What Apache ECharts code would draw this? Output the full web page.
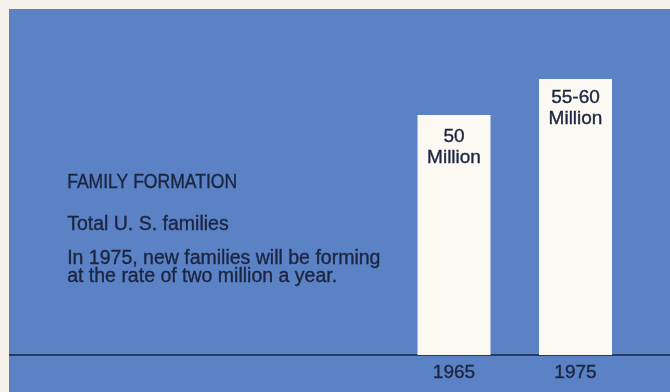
<!DOCTYPE html>
<html>
<head>
<meta charset="utf-8">
<script src="https://cdn.jsdelivr.net/npm/echarts@6/dist/echarts.min.js"></script>
<style>
html,body{margin:0;padding:0;background:#f4f2ea;width:670px;height:392px;overflow:hidden;}
#chart{position:absolute;left:9px;top:9px;width:661px;height:383px;}
</style>
</head>
<body>
<div id="chart"></div>
<script>
const categories = ['1965', '1975'];
const familiesMillions = [50, 57.5];
const barLabels = ['50\nMillion', '55-60\nMillion'];
const titleText = 'FAMILY FORMATION';
const subtitleText = 'Total U. S. families';
const noteLines = ['In 1975, new families will be forming', 'at the rate of two million a year.'];

const FONT = '"Liberation Sans", Arial, sans-serif';
const INK = '#1b2440';
const labelDistances = [11, 8.5];
const chart = echarts.init(document.getElementById('chart'));
const textStyle = (size, extra) => Object.assign({fill: INK, font: size + 'px ' + FONT, stroke: INK, lineWidth: 0.35}, extra || {});
chart.setOption({
  backgroundColor: '#5a82c5',
  animation: false,
  grid: [
    {left: 384.25, right: 33.75, top: 10, bottom: 37},
    {left: 0, right: 0, top: 10, bottom: 37}
  ],
  xAxis: [
    {type: 'category', data: categories, gridIndex: 0,
     axisLine: {show: false}, axisTick: {show: false},
     axisLabel: {color: INK, fontFamily: FONT, fontSize: 19, margin: 8, textBorderColor: INK, textBorderWidth: 0.35}},
    {type: 'value', gridIndex: 1, min: 0, max: 1,
     axisLine: {show: true, lineStyle: {color: '#1a2338', width: 1.6}},
     axisTick: {show: false}, axisLabel: {show: false}, splitLine: {show: false}}
  ],
  yAxis: [
    {type: 'value', gridIndex: 0, min: 0, max: 70, show: false, splitLine: {show: false}},
    {type: 'value', gridIndex: 1, show: false, splitLine: {show: false}}
  ],
  series: [{
    type: 'bar',
    data: familiesMillions.map((v, i) => ({value: v, label: {distance: labelDistances[i]}})),
    barWidth: 73,
    itemStyle: {color: '#fbf9f1'},
    label: {
      show: true, position: 'insideTop',
      formatter: p => barLabels[p.dataIndex],
      color: INK, fontFamily: FONT, fontSize: 19, lineHeight: 21, align: 'center',
      textBorderColor: INK, textBorderWidth: 0.35
    }
  }],
  graphic: [
    {type: 'text', left: 58, top: 172.5 - 9, scaleX: 0.9, style: textStyle(19.5, {text: titleText})},
    {type: 'text', left: 58, top: 214 - 9, style: textStyle(19.5, {text: subtitleText})},
    {type: 'text', left: 58, top: 248.5 - 9, style: textStyle(19.5, {text: noteLines.join('\n'), lineHeight: 18})}
  ]
});
</script>
</body>
</html>
